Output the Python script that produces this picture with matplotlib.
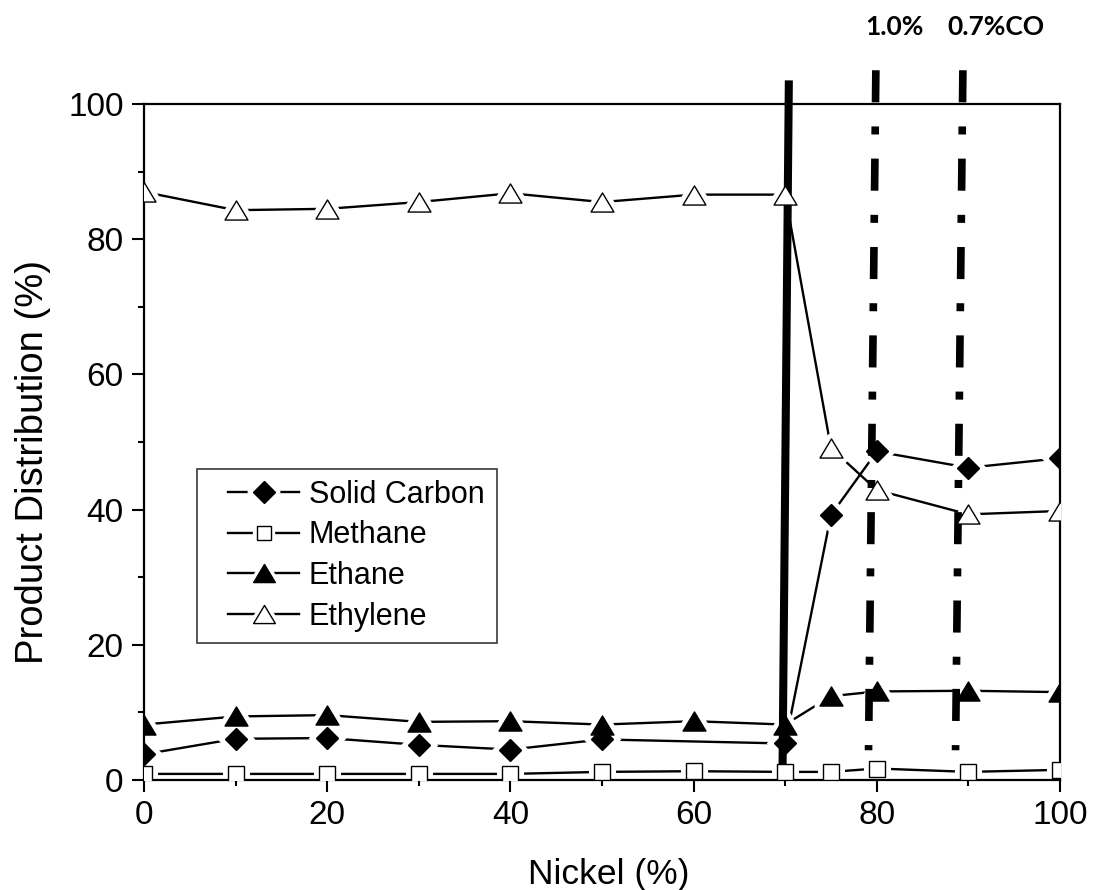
import matplotlib
matplotlib.use('Agg')
import matplotlib.pyplot as plt
from matplotlib.lines import Line2D
from matplotlib.path import Path
from matplotlib.legend_handler import HandlerTuple
from matplotlib.ticker import MultipleLocator

plt.rcParams['font.family'] = ['Liberation Sans', 'DejaVu Sans']

# ---- data ----
nickel_solid = [0, 10, 20, 30, 40, 50, 70, 75, 80, 90, 100]
solid_carbon = [3.8, 6.1, 6.2, 5.2, 4.5, 6.0, 5.4, 39.2, 48.6, 46.2, 47.6]
nickel = [0, 10, 20, 30, 40, 50, 60, 70, 75, 80, 90, 100]
methane = [0.9, 0.9, 0.9, 0.9, 0.9, 1.2, 1.3, 1.2, 1.2, 1.7, 1.2, 1.5]
ethane = [8.2, 9.4, 9.6, 8.6, 8.7, 8.2, 8.7, 8.2, 12.4, 13.1, 13.2, 13.0]
ethylene = [87.0, 84.3, 84.5, 85.5, 86.8, 85.5, 86.6, 86.6, 49.1, 42.9, 39.3, 39.8]
series_names = ['Solid Carbon', 'Methane', 'Ethane', 'Ethylene']

solid_line_x = [69.7, 70.4]
solid_line_y = [0, 103.5]
co_lines_x = [[79.9, 79.1], [89.4, 88.6]]   # (top, bottom)
co_lines_y = [105.0, 4.4]
co_labels = ['1.0%', '0.7%CO']
co_label_x = [81.9, 93.0]
co_label_y = 111.4

x_ticks = [0, 20, 40, 60, 80, 100]
y_ticks = [0, 20, 40, 60, 80, 100]

# ---- figure ----
fig = plt.figure(figsize=(10.93, 8.9), dpi=100)
ax = fig.add_axes([0.1317, 0.1236, 0.8381, 0.7595])

tri = Path([(-1.2, -1.0), (1.2, -1.0), (0.0, 1.0), (-1.2, -1.0)], closed=True)

styles = [
    dict(marker='D', ms=11.5, mfc='black'),
    dict(marker='s', ms=11, mfc='white'),
    dict(marker=tri, ms=16.5, mfc='black'),
    dict(marker=tri, ms=16.5, mfc='white'),
]
xs_list = [nickel_solid, nickel, nickel, nickel]
ys_list = [solid_carbon, methane, ethane, ethylene]

handles = []
for xs, ys, st, name in zip(xs_list, ys_list, styles, series_names):
    ax.plot(xs, ys, color='black', lw=1.7, zorder=2)
    ax.plot(xs, ys, ls='none', marker=st['marker'], ms=st['ms'],
            mfc='white', mec='white', mew=8, zorder=2.5)
    ax.plot(xs, ys, ls='none', marker=st['marker'], ms=st['ms'],
            mfc=st['mfc'], mec='black', mew=1, zorder=4)
    h_line = Line2D([], [], color='black', lw=1.7)
    h_halo = Line2D([], [], ls='none', marker=st['marker'], ms=st['ms'] * 0.95,
                    mfc='white', mec='white', mew=6)
    h_mk = Line2D([], [], ls='none', marker=st['marker'], ms=st['ms'] * 0.95,
                  mfc=st['mfc'], mec='black', mew=1)
    handles.append((h_line, h_halo, h_mk))

# vertical reference lines
ax.plot(solid_line_x, solid_line_y, color='black', lw=5.8,
        solid_capstyle='butt', clip_on=False, zorder=3)
for xs in co_lines_x:
    ax.plot(xs, co_lines_y, color='black', lw=5.5,
            ls=(0, (4.2, 3.16, 1.05, 3.16)), dash_capstyle='butt',
            clip_on=False, zorder=3)
for lab, lx in zip(co_labels, co_label_x):
    ax.text(lx, co_label_y, lab, ha='center', va='center', fontsize=19,
            fontweight='bold', family=['Lato', 'DejaVu Sans'], clip_on=False)

ax.set_xlim(0, 100)
ax.set_ylim(0, 100)
ax.set_xticks(x_ticks)
ax.set_yticks(y_ticks)
ax.xaxis.set_minor_locator(MultipleLocator(10))
ax.yaxis.set_minor_locator(MultipleLocator(10))
ax.tick_params(which='major', direction='out', length=8.6, width=1.5,
               labelsize=24, pad=6, top=False, right=False)
ax.tick_params(which='minor', direction='out', length=4.3, width=1.5,
               top=False, right=False)
for sp in ax.spines.values():
    sp.set_linewidth(1.6)

ax.set_xlabel('Nickel (%)', fontsize=25.5)
ax.set_ylabel('Product Distribution (%)', fontsize=27.5)
ax.xaxis.set_label_coords(0.507, -0.116)
ax.yaxis.set_label_coords(-0.102, 0.47)

leg = ax.legend(handles, series_names,
                handler_map={tuple: HandlerTuple(ndivide=1, pad=0, xpad=0.65)},
                loc='upper left', bbox_to_anchor=(0.058, 0.207, 0.3275, 0.253),
                mode='expand', borderaxespad=0, borderpad=0.35,
                handlelength=3.0, handletextpad=0.3, labelspacing=0.35,
                fontsize=22, fancybox=False, framealpha=1, numpoints=1)
leg.get_frame().set_edgecolor('#3a3a3a')
leg.get_frame().set_linewidth(1.2)
leg.set_zorder(5)

fig.savefig('out.png', dpi=100)
